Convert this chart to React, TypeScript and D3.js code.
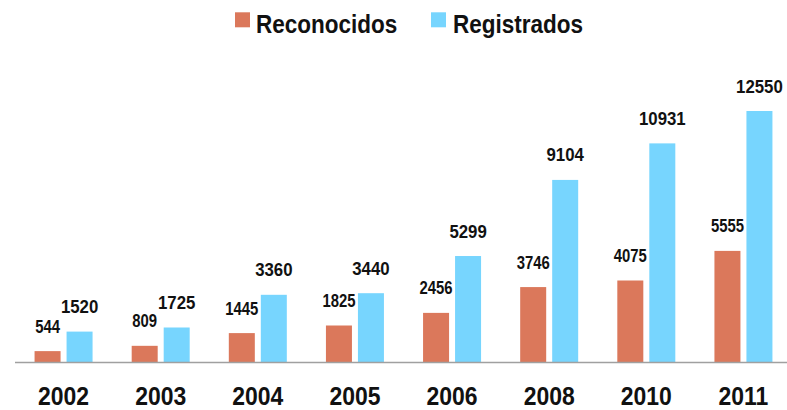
import React from "react";
import * as d3 from "d3";

const years = ["2002", "2003", "2004", "2005", "2006", "2008", "2010", "2011"];
const reconocidos = [544, 809, 1445, 1825, 2456, 3746, 4075, 5555];
const registrados = [1520, 1725, 3360, 3440, 5299, 9104, 10931, 12550];
const seriesNames = ["Reconocidos", "Registrados"];
const seriesColors = ["#DB785B", "#77D5FE"];

const W = 787;
const H = 410;
const FONT = "'Liberation Sans', Arial, Helvetica, sans-serif";

export default function App() {
  const x0 = d3.scaleBand<string>().domain(years).range([15, 792]).paddingInner(0).paddingOuter(0);
  const x1 = d3.scaleBand<string>().domain(seriesNames).range([-29, 29]).paddingInner(0.1875).paddingOuter(0);
  const y = d3.scaleLinear().domain([0, 14000]).range([362, 82]);
  const seriesValues = [reconocidos, registrados];
  const labelScale = [0.85, 0.96];

  return (
    <svg width={W} height={H} style={{ position: "absolute", left: 0, top: 0, background: "#fff" }}>
      {/* legend */}
      <g fontFamily={FONT} fontWeight="bold" fontSize={25} fill="#111">
        <rect x={235} y={12.3} width={15} height={15} fill={seriesColors[0]} />
        <text transform={`translate(256,33.3) scale(0.9,1)`}>{seriesNames[0]}</text>
        <rect x={431} y={12.3} width={15} height={15} fill={seriesColors[1]} />
        <text transform={`translate(453,33.3) scale(0.9,1)`}>{seriesNames[1]}</text>
      </g>

      {/* bars */}
      {years.map((yr, i) => {
        const cx = (x0(yr) as number) + x0.bandwidth() / 2;
        return (
          <g key={yr}>
            {seriesNames.map((s, j) => {
              const v = seriesValues[j][i];
              const bx = cx + (x1(s) as number);
              const by = y(v);
              return (
                <g key={s}>
                  <rect x={bx} y={by} width={x1.bandwidth()} height={y(0) - by} fill={seriesColors[j]} />
                  <text
                    transform={`translate(${bx + x1.bandwidth() / 2},${by - 18.5}) scale(${labelScale[j]},1)`}
                    textAnchor="middle"
                    fontFamily={FONT}
                    fontWeight="bold"
                    fontSize={17.5}
                    fill="#111"
                  >
                    {v}
                  </text>
                </g>
              );
            })}
            <text
              transform={`translate(${cx},404.5) scale(0.9,1)`}
              textAnchor="middle"
              fontFamily={FONT}
              fontWeight="bold"
              fontSize={25.5}
              fill="#111"
            >
              {yr}
            </text>
          </g>
        );
      })}

      {/* axis line */}
      <line x1={15} x2={787} y1={362.5} y2={362.5} stroke="#A0A0A0" strokeWidth={1.5} />
    </svg>
  );
}
